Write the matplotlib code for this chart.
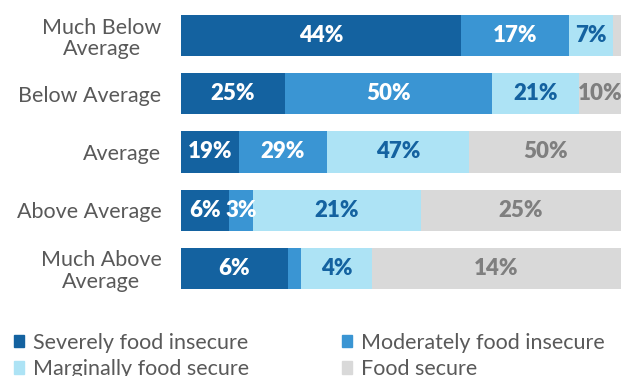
import numpy as np
import matplotlib.pyplot as plt
from matplotlib.patches import Patch

# rainfall categories, top to bottom
categories = ['Much Below\nAverage', 'Below Average', 'Average',
              'Above Average', 'Much Above\nAverage']

# food security shares per category (labelled values)
severe = [44, 25, 19, 6, 6]
moderate = [17, 50, 29, 3, 0.75]
marginal = [7, 21, 47, 21, 4]
secure = [1.2, 10, 50, 25, 14]

# which segments carry a printed label
show_moderate = [True, True, True, True, False]
show_secure = [False, True, True, True, True]

series_names = ['Severely food insecure', 'Moderately food insecure',
                'Marginally food secure', 'Food secure']
colors = ['#1462a0', '#3a95d3', '#ade3f5', '#d9d9d9']
text_colors = ['white', 'white', '#1462a0', '#7f7f7f']

plt.rcParams['font.family'] = ['Lato', 'DejaVu Sans']

data = np.array([severe, moderate, marginal, secure], dtype=float)
shares = data / data.sum(axis=0) * 100
shown = np.array([[True] * 5, show_moderate, [True] * 5, show_secure])

fig = plt.figure(figsize=(6.31, 3.76), dpi=100)
ax = fig.add_axes([181 / 631, 1 - 289 / 376, 440 / 631, 274 / 376])

y = np.arange(len(categories))
left = np.zeros(len(categories))
for i in range(4):
    ax.barh(y, shares[i], left=left, height=0.71, color=colors[i], linewidth=0)
    for j in range(len(categories)):
        if shown[i, j]:
            ax.text(left[j] + shares[i, j] / 2, y[j], '%d%%' % round(data[i, j]),
                    ha='center', va='center', color=text_colors[i],
                    fontsize=16, fontweight='heavy')
    left += shares[i]

ax.set_xlim(0, 100)
ax.set_ylim(4.355, -0.355)
ax.set_yticks(y)
ax.set_yticklabels(categories, fontsize=15.5, color='#595959',
                   multialignment='center', linespacing=1.1)
ax.tick_params(axis='y', length=0, pad=14)
ax.set_xticks([])
for s in ax.spines.values():
    s.set_visible(False)

# legend in two columns, filled column-wise
handles = [Patch(color=colors[k]) for k in (0, 2, 1, 3)]
labels = [series_names[k] for k in (0, 2, 1, 3)]
fig.legend(handles, labels, ncol=2, loc='upper left',
           bbox_to_anchor=(5 / 631, 1 - 324 / 376), frameon=False,
           fontsize=15.5, labelcolor='#595959', handlelength=0.5,
           handleheight=0.5, handletextpad=0.4, columnspacing=4.3,
           labelspacing=0.3, borderaxespad=0)

fig.savefig('out.png', dpi=100)
